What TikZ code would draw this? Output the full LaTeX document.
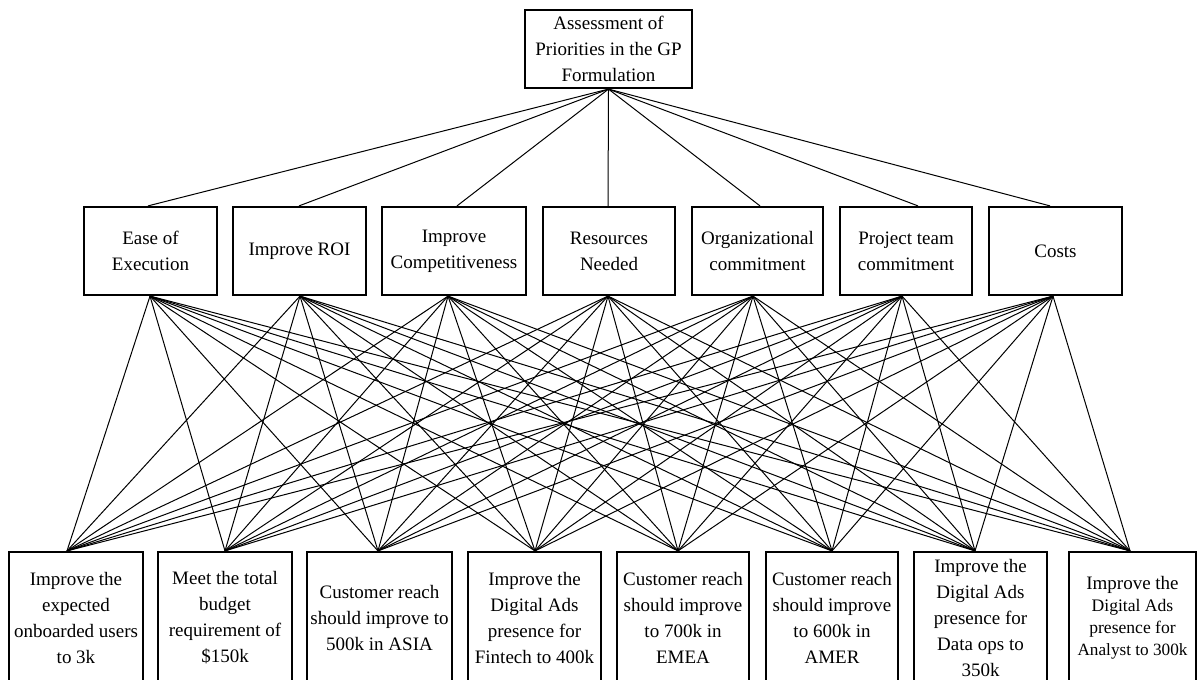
\documentclass[tikz,border=0pt]{standalone}
\usepackage{fontspec}
\setmainfont{Liberation Serif}
\begin{document}
\begin{tikzpicture}[x=0.5pt,y=-0.5pt,
  box/.style={draw,line width=1.1pt,inner sep=0pt,align=center,font=\fontsize{9.5}{13}\selectfont},
  midbox/.style={box,minimum height=44pt},
  botbox/.style={box,minimum height=66pt},
  link/.style={line width=0.5pt}]
\useasboundingbox (0,0) rectangle (1197,679);
\fill[white] (0,0) rectangle (1197,679);
\clip (0,0) rectangle (1197,679);
% top
\node[box,minimum width=83.5pt,minimum height=39pt] (top) at (608.5,49) {Assessment of\\Priorities in the GP\\Formulation};
% criteria
\node[midbox,minimum width=66.5pt] (m1) at (150.5,251) {Ease of\\Execution};
\node[midbox,minimum width=66.5pt] (m2) at (299.5,251) {Improve ROI};
\node[midbox,minimum width=72pt]   (m3) at (454,251)   {Improve\\Competitiveness};
\node[midbox,minimum width=66pt]   (m4) at (609,251)   {Resources\\Needed};
\node[midbox,minimum width=65.5pt] (m5) at (757.5,251) {Organizational\\commitment};
\node[midbox,minimum width=66pt]   (m6) at (906,251)   {Project team\\commitment};
\node[midbox,minimum width=66.5pt] (m7) at (1055.5,251){Costs};
% goals
\node[botbox,minimum width=67pt]   (b1) at (76,618)    {Improve the\\expected\\onboarded users\\to 3k};
\node[botbox,minimum width=67pt]   (b2) at (225,618)   {Meet the total\\budget\\requirement of\\\$150k};
\node[botbox,minimum width=72.5pt] (b3) at (379.5,618) {Customer reach\\should improve to\\500k in ASIA};
\node[botbox,minimum width=66.5pt] (b4) at (534.5,618) {Improve the\\Digital Ads\\presence for\\Fintech to 400k};
\node[botbox,minimum width=66pt]   (b5) at (683,618)   {Customer reach\\should improve\\to 700k in\\EMEA};
\node[botbox,minimum width=66pt]   (b6) at (832,618)   {Customer reach\\should improve\\to 600k in\\AMER};
\node[botbox,minimum width=66.5pt] (b7) at (980.5,618) {Improve the\\Digital Ads\\presence for\\Data ops to\\350k};
\node[botbox,minimum width=63.5pt] (b8) at (1132.5,618){Improve the\\[-2pt]\fontsize{8.8}{11}\selectfont Digital Ads\\[-2pt]\fontsize{8.8}{11}\selectfont presence for\\[-2pt]\fontsize{8.6}{11}\selectfont Analyst to 300k};
% anchor points
\foreach \i/\d in {1/-1.25,2/-0.25,3/1.5,4/-0.5,5/1.25,6/6,7/-2.75}
  \coordinate (mt\i) at ([xshift=\d pt]m\i.north);
\foreach \i/\d in {1/-0.25,2/0.25,3/-3,4/-0.5,5/-2.25,6/-2,7/-1.25}
  \coordinate (mb\i) at ([xshift=\d pt]m\i.south);
\foreach \k/\d in {1/-4.5,2/0,3/-0.75,4/0.25,5/-2.5,6/0,7/-2.75,8/-1.25}
  \coordinate (bt\k) at ([xshift=\d pt]b\k.north);
% connectors
\foreach \i in {1,...,7}
  \draw[link] (top.south) -- (mt\i);
\foreach \i in {1,...,7}
  \foreach \k in {1,...,8}
    \draw[link] (mb\i) -- (bt\k);
\end{tikzpicture}
\end{document}
